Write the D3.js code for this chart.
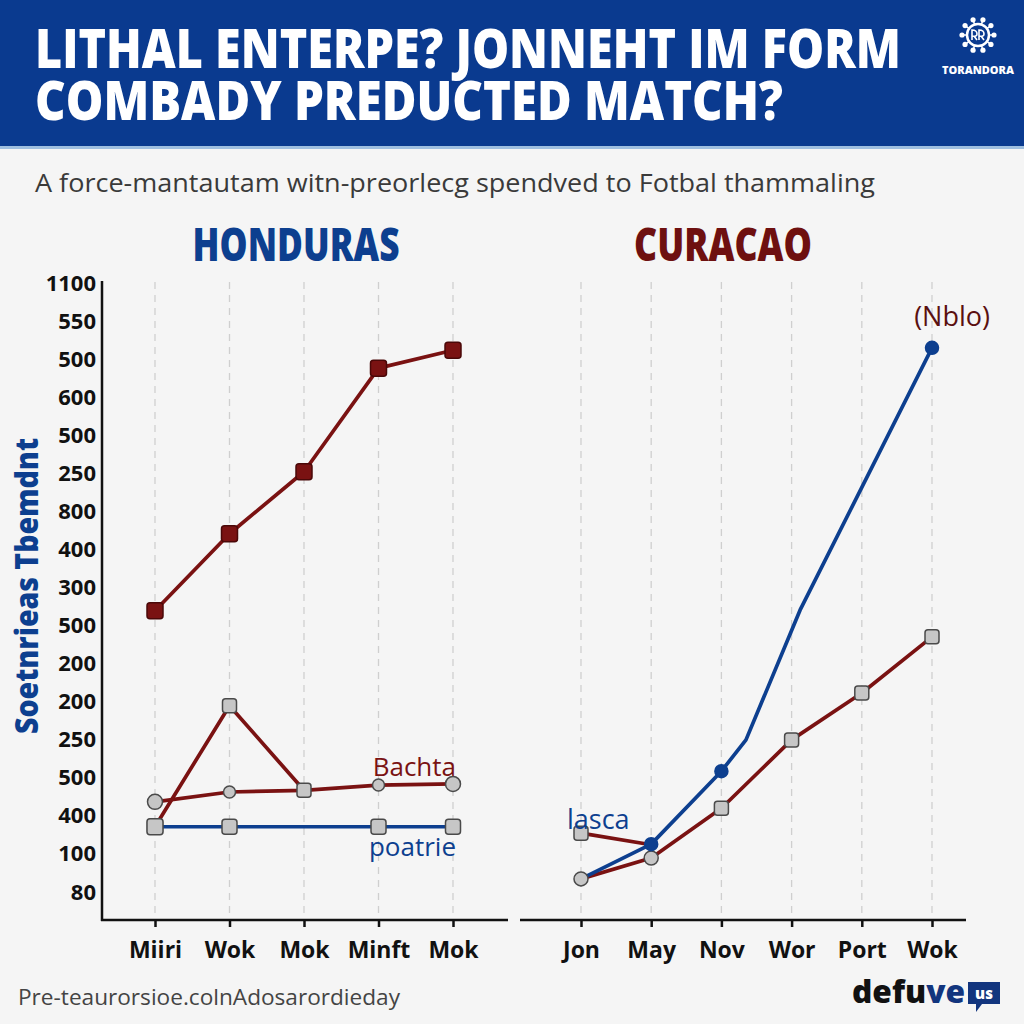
<!DOCTYPE html>
<html><head><meta charset="utf-8">
<script src="https://cdn.jsdelivr.net/npm/d3@7"></script>
<style>
html,body{margin:0;padding:0;background:#f5f5f5;}
svg{display:block;font-family:"Open Sans","Noto Sans",sans-serif;}
</style></head>
<body>
<svg id="c" width="1024" height="1024"></svg>
<script>
// ---- data ----
const titleLines = ["LITHAL ENTERPE? JONNEHT IM FORM", "COMBADY PREDUCTED MATCH?"];
const subtitle = "A force-mantautam witn-preorlecg spendved to Fotbal thammaling";
const leftTitle = "HONDURAS";
const rightTitle = "CURACAO";
const yAxisTitle = "Soetnrieas Tbemdnt";
const yTickLabels = ["1100","550","500","600","500","250","800","400","300","500","200","200","250","500","400","100","80"];
const leftCats = ["Miiri","Wok","Mok","Minft","Mok "];
const rightCats = ["Jon","May","Nov","Wor","Port","Wok"];
// Honduras series (values on 0..1100 scale)
const hondurasTop = [534, 667, 774, 953, 984];
const hondurasBachta = [204, 221, 224, 233, 235];
const hondurasZigzag = [161, 370, 224];
const hondurasPoatrie = [161, 161, 161, 161, 161];
// Curacao series
const curacaoBlueX = [0, 1, 2, 2.35, 3.12, 5];
const curacaoBlue = [71, 131, 257, 311, 535, 988];
const curacaoRed = [71, 107, 193, 311, 392, 489];
const curacaoLasca = [150, 130];
const labels = {bachta:"Bachta", poatrie:"poatrie", lasca:"lasca", nblo:"(Nblo)"};
const footer = "Pre-teaurorsioe.colnAdosarordieday";
const brand = "TORANDORA";

// ---- drawing ----
const svg = d3.select("#c");
const RED = "#7a1212", BLUE = "#0d3f8f", GRAYF = "#c6c6c6", GRAYS = "#4a4a4a";

svg.append("rect").attr("width",1024).attr("height",1024).attr("fill","#f5f5f5");
// header
svg.append("rect").attr("width",1024).attr("height",148).attr("fill","#0a3a8f");
svg.append("rect").attr("y",146).attr("width",1024).attr("height",3).attr("fill","#9fbfe0");
function tallText(x, yb, txt, size, sy, len, fill, anchor){
  svg.append("text").attr("transform",`translate(${x},${yb}) scale(1,${sy})`)
    .attr("text-anchor",anchor||"start").attr("fill",fill).attr("font-size",size).attr("font-weight",800)
    .attr("textLength",len).attr("lengthAdjust","spacingAndGlyphs").text(txt);
}
tallText(35, 68, titleLines[0], 45, 1.22, 866, "#fff");
tallText(35, 120, titleLines[1], 45, 1.22, 748, "#fff");
// header emblem (drawn shapes)
const em = svg.append("g").attr("transform","translate(978,35)").attr("fill","#fff").attr("stroke","#fff");
em.append("circle").attr("r",11).attr("fill","none").attr("stroke-width",2.5);
d3.range(10).forEach(i=>{
  const a = i/10*2*Math.PI;
  em.append("circle").attr("cx",Math.cos(a)*16).attr("cy",Math.sin(a)*16).attr("r",2.6).attr("stroke","none");
  em.append("line").attr("x1",Math.cos(a)*11).attr("y1",Math.sin(a)*11).attr("x2",Math.cos(a)*15).attr("y2",Math.sin(a)*15).attr("stroke-width",1.5);
});
em.append("path").attr("d","M-6,5 L-6,-5 Q-1,-5 -1,-1 Q-1,2 -6,1 M-4,1 L-1,5 M1,5 L1,-5 Q6,-5 6,-1 Q6,2 1,1 M3,1 L6,5").attr("fill","none").attr("stroke-width",1.6);
svg.append("text").attr("x",978).attr("y",74).attr("text-anchor","middle").attr("fill","#fff").attr("font-size",10).attr("font-weight",800).attr("textLength",72).attr("lengthAdjust","spacingAndGlyphs").text(brand);

// subtitle
svg.append("text").attr("x",35).attr("y",192).attr("fill","#3a3a3a").attr("font-size",26).attr("textLength",840).attr("lengthAdjust","spacingAndGlyphs").text(subtitle);

// panel titles
tallText(296, 261, leftTitle, 38, 1.2, 207, BLUE, "middle");
tallText(723, 261, rightTitle, 38, 1.2, 178, "#6e1010", "middle");

// scales
const y = d3.scaleLinear().domain([0,1100]).range([920,283]);
const yTickPos = d3.scalePoint().domain(d3.range(yTickLabels.length)).range([283,892]);
const xL = d3.scalePoint().domain(leftCats).range([155,453]);
const xR = d3.scalePoint().domain(rightCats).range([581,932]);
const xRlin = d3.scaleLinear().domain([0,rightCats.length-1]).range([581,932]);

// grid lines
const grid = svg.append("g").attr("stroke","#cfcfcf").attr("stroke-width",1.3).attr("stroke-dasharray","7,6");
leftCats.forEach(c=>grid.append("line").attr("x1",xL(c)).attr("x2",xL(c)).attr("y1",282).attr("y2",920));
rightCats.forEach(c=>grid.append("line").attr("x1",xR(c)).attr("x2",xR(c)).attr("y1",282).attr("y2",920));

// y axis
const ya = svg.append("g").attr("transform","translate(96,0)")
  .call(d3.axisLeft(yTickPos).tickSize(0).tickPadding(0).tickFormat(i=>yTickLabels[i]));
ya.select(".domain").remove();
ya.selectAll("text").attr("font-size",22).attr("font-weight",700).attr("fill","#111").attr("font-family","'Open Sans',sans-serif");
svg.append("line").attr("x1",102).attr("x2",102).attr("y1",281).attr("y2",921).attr("stroke","#111").attr("stroke-width",2.5);
svg.append("text").attr("transform","translate(38,586) rotate(-90) scale(1,1.15)").attr("text-anchor","middle").attr("fill",BLUE).attr("font-size",27).attr("font-weight",800).attr("textLength",296).attr("lengthAdjust","spacingAndGlyphs").text(yAxisTitle);

// x axes
function xAxis(scale){
  return g=>{
    g.call(d3.axisBottom(scale).tickSize(7).tickSizeOuter(0));
    g.select(".domain").remove();
    g.selectAll("line").attr("stroke","#111").attr("stroke-width",2.5);
    g.selectAll("text").attr("y",38).attr("dy",0).attr("font-size",23).attr("font-weight",700).attr("fill","#111").attr("font-family","'Open Sans',sans-serif");
  };
}
svg.append("g").attr("transform","translate(0,920)").call(xAxis(xL));
svg.append("g").attr("transform","translate(0,920)").call(xAxis(xR));
svg.append("line").attr("x1",101).attr("x2",508).attr("y1",920).attr("y2",920).attr("stroke","#111").attr("stroke-width",2.5);
svg.append("line").attr("x1",520).attr("x2",966).attr("y1",920).attr("y2",920).attr("stroke","#111").attr("stroke-width",2.5);

// helpers
function path(pts, color){
  svg.append("path").datum(pts).attr("fill","none").attr("stroke",color).attr("stroke-width",3.7)
    .attr("stroke-linejoin","round").attr("d",d3.line().x(d=>d[0]).y(d=>d[1]));
}
function sq(p, size, fill, stroke){
  svg.append("rect").attr("x",p[0]-size/2).attr("y",p[1]-size/2).attr("width",size).attr("height",size)
    .attr("rx",3).attr("fill",fill).attr("stroke",stroke).attr("stroke-width",1.5);
}
function circ(p, r, fill, stroke){
  svg.append("circle").attr("cx",p[0]).attr("cy",p[1]).attr("r",r).attr("fill",fill).attr("stroke",stroke).attr("stroke-width",1.5);
}

// Honduras
const pTop = hondurasTop.map((v,i)=>[xL(leftCats[i]), y(v)]);
const pBach = hondurasBachta.map((v,i)=>[xL(leftCats[i]), y(v)]);
const pZig = hondurasZigzag.map((v,i)=>[xL(leftCats[i]), y(v)]);
const pPoa = hondurasPoatrie.map((v,i)=>[xL(leftCats[i]), y(v)]);
path(pPoa, BLUE);
path(pBach, RED);
path(pZig, RED);
path(pTop, RED);
pTop.forEach(p=>sq(p,16,RED,"#4a0808"));
pPoa.forEach((p,i)=>{ if(i!==2) sq(p,15,GRAYF,GRAYS); });
pBach.forEach((p,i)=>circ(p,(i===0||i===4)?7.5:6,GRAYF,GRAYS));
pZig.forEach((p,i)=>sq(p,i===0?16:14,GRAYF,GRAYS));
svg.append("text").attr("x",456).attr("y",776).attr("text-anchor","end").attr("fill",RED).attr("font-size",26).text(labels.bachta);
svg.append("text").attr("x",456).attr("y",856).attr("text-anchor","end").attr("fill",BLUE).attr("font-size",26).text(labels.poatrie);

// Curacao
const pBlue = curacaoBlue.map((v,i)=>[xRlin(curacaoBlueX[i]), y(v)]);
const pRed = curacaoRed.map((v,i)=>[xR(rightCats[i]), y(v)]);
const pLas = curacaoLasca.map((v,i)=>[xR(rightCats[i]), y(v)]);
path(pRed, RED);
path(pLas, RED);
path(pBlue, BLUE);
sq(pLas[0],14,GRAYF,GRAYS);
pRed.forEach((p,i)=>{ if(i<2) circ(p,7,GRAYF,GRAYS); else sq(p,14,GRAYF,GRAYS); });
[1,2,5].forEach(i=>circ(pBlue[i],6.5,BLUE,BLUE));
svg.append("text").attr("x",567).attr("y",829).attr("fill",BLUE).attr("font-size",27).text(labels.lasca);
svg.append("text").attr("x",990).attr("y",326).attr("text-anchor","end").attr("fill","#5a1010").attr("font-size",27).text(labels.nblo);

// footer
svg.append("text").attr("x",18).attr("y",1005).attr("fill","#444").attr("font-size",22).attr("textLength",382).attr("lengthAdjust","spacingAndGlyphs").text(footer);
const lg = svg.append("g");
lg.append("text").attr("x",852).attr("y",1003).attr("font-size",32).attr("font-weight",800).attr("fill","#111").attr("textLength",113).attr("lengthAdjust","spacingAndGlyphs")
  .html('defu<tspan fill="#12357e">ve</tspan>');
lg.append("path").attr("d","M968,982 h32 v22 h-18 l-6,8 v-8 h-8 z").attr("fill","#12357e");
lg.append("text").attr("x",984).attr("y",999).attr("text-anchor","middle").attr("font-size",15).attr("font-weight",800).attr("fill","#fff").text("us");
</script>
</body></html>
